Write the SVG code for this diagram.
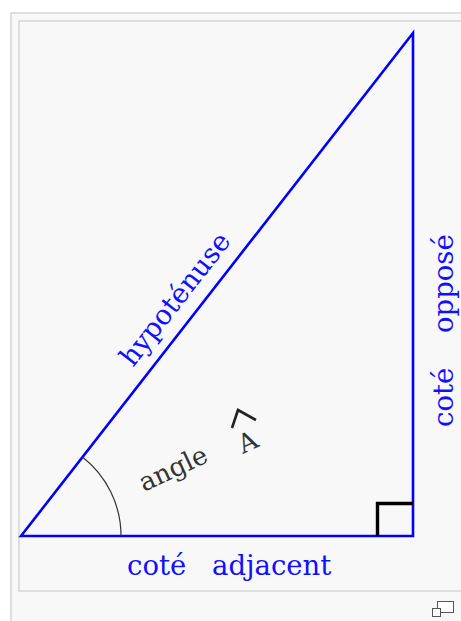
<svg xmlns="http://www.w3.org/2000/svg" width="461" height="621" viewBox="0 0 461 621">
<style>
.frame{fill:#f8f8f8;stroke:#d4d6d9;stroke-width:1.5}
.side{fill:none;stroke:#0000ff;stroke-width:2.6;stroke-linejoin:miter}
.lbl{font-family:"DejaVu Serif",serif;font-size:27.5px;fill:#1010ff}
.dk{font-family:"DejaVu Serif",serif;font-size:26px;fill:#333333}
</style>
<rect width="461" height="621" fill="#ffffff"/>
<rect class="frame" x="11" y="13" width="470" height="630"/>
<rect class="frame" x="19" y="21" width="460" height="570"/>
<g id="triangle">
<polygon class="side" points="21,536 413,33 413,536"/>
</g>
<g id="right-angle">
<path d="M377.5,536 V503.5 H413" fill="none" stroke="#000000" stroke-width="3.4"/>
</g>
<g id="angle-arc">
<path d="M121,536 A100,100 0 0 0 82.4,457" fill="none" stroke="#333333" stroke-width="1.2"/>
</g>
<g id="hypotenuse-label">
<text class="lbl" transform="translate(133,368) rotate(-52)">hypoténuse</text>
</g>
<g id="adjacent-label">
<text class="lbl" x="127" y="575">coté</text>
<text class="lbl" x="212" y="575">adjacent</text>
</g>
<g id="opposite-label">
<text class="lbl" transform="translate(453,427) rotate(-90)">coté</text>
<text class="lbl" transform="translate(453,333) rotate(-90)">opposé</text>
</g>
<g id="angle-label">
<text class="dk" transform="translate(144,492) rotate(-25)">angle</text>
<text class="dk" transform="translate(243,454) rotate(-25)">A</text>
<path d="M232,428 L238,410 L256,420" fill="none" stroke="#222222" stroke-width="2.6"/>
</g>
<g id="magnify">
<rect x="437.5" y="601.5" width="16" height="11" fill="#ffffff" stroke="#555555" stroke-width="1"/>
<rect x="432.5" y="608.5" width="8" height="8" fill="#ffffff" stroke="#555555" stroke-width="1"/>
</g>
</svg>
